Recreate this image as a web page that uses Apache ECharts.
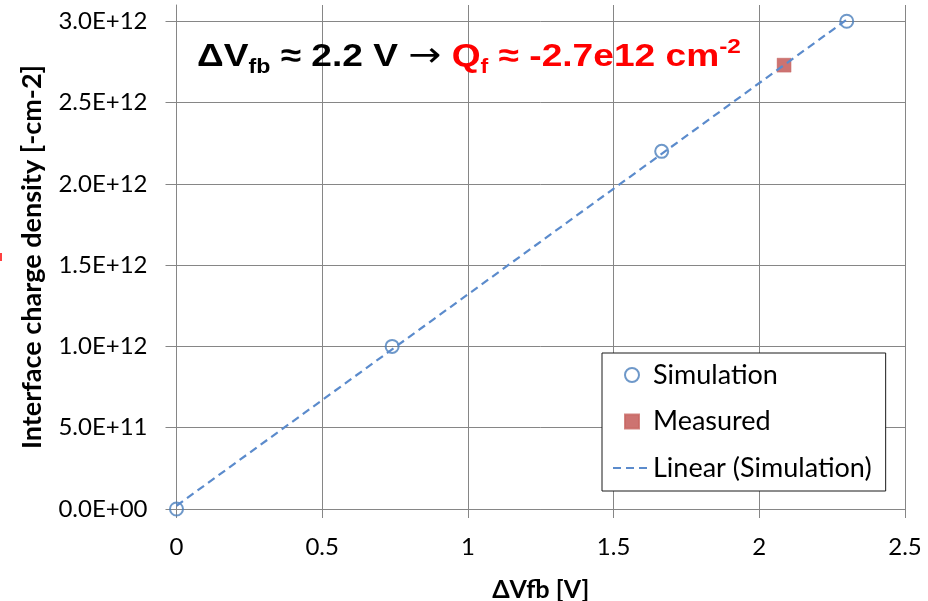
<!DOCTYPE html>
<html>
<head>
<meta charset="utf-8">
<script src="https://cdn.jsdelivr.net/npm/echarts@6/dist/echarts.min.js"></script>
<style>
  html, body { margin: 0; padding: 0; background: #fff; }
  #chart { width: 928px; height: 601px; }
</style>
</head>
<body>
<div id="chart"></div>
<script>
// Simulated interface charge vs. flat-band shift
const simX = [0, 0.74, 1.665, 2.30];
const simY = [0, 1.0e12, 2.2e12, 3.0e12];

// Measured point
const measX = [2.085];
const measY = [2.73e12];

// Linear trendline of the simulation (end points)
const trendX = [0, 2.30];
const trendY = [0.02e12, 3.01e12];

// Axis ticks
const xTicks = [0, 0.5, 1, 1.5, 2, 2.5];
const yTicks = [0, 0.5e12, 1.0e12, 1.5e12, 2.0e12, 2.5e12, 3.0e12];
const yTop = 3.1e12;

const seriesNames = ['Simulation', 'Measured', 'Linear (Simulation)'];

const pairs = (xs, ys) => xs.map((x, i) => [x, ys[i]]);

function sciLabel(v) {
  const parts = Number(v).toExponential(1).split('e');
  const sign = parts[1][0] === '-' ? '-' : '+';
  const exp = parts[1].replace(/^[+-]/, '').padStart(2, '0');
  return parts[0] + 'E' + sign + exp;
}

const gridColor = '#868686';
const labelFont = 'Lato, "Open Sans", sans-serif';
const headFont = '"Liberation Sans", Arial, sans-serif';
const blue = '#4A7EBB';
const lineBlue = '#5B8BCC';
const red = '#C0504D';

const chart = echarts.init(document.getElementById('chart'), null, { renderer: 'canvas' });

chart.setOption({
  animation: false,
  backgroundColor: '#fff',
  grid: { left: 176.5, right: 23, top: 5, bottom: 92, containLabel: false, outerBoundsMode: 'none' },
  xAxis: {
    type: 'value',
    min: xTicks[0],
    max: xTicks[xTicks.length - 1],
    interval: 0.5,
    name: 'ΔVfb [V]',
    nameLocation: 'middle',
    nameGap: 68,
    nameTextStyle: { fontFamily: labelFont, fontWeight: 'bold', fontSize: 25, color: '#000' },
    axisLine: { show: true, lineStyle: { color: gridColor, width: 1 } },
    axisTick: { show: true, inside: false, length: 9, lineStyle: { color: gridColor } },
    axisLabel: { fontFamily: labelFont, fontSize: 24, color: '#000', margin: 26 },
    splitLine: { show: true, lineStyle: { color: gridColor, width: 1 } }
  },
  yAxis: {
    type: 'value',
    min: yTicks[0],
    max: yTop,
    interval: 0.5e12,
    name: 'Interface charge density [-cm-2]',
    nameLocation: 'middle',
    nameGap: 131,
    nameTextStyle: { fontFamily: labelFont, fontWeight: 'bold', fontSize: 27, color: '#000' },
    axisLine: { show: true, lineStyle: { color: gridColor, width: 1 } },
    axisTick: { show: true, inside: false, length: 11, customValues: yTicks, lineStyle: { color: gridColor } },
    axisLabel: {
      fontFamily: labelFont, fontSize: 24, color: '#000', margin: 29,
      showMaxLabel: false,
      formatter: (v) => (v > yTicks[yTicks.length - 1] ? '' : sciLabel(v))
    },
    splitLine: { show: true, lineStyle: { color: gridColor, width: 1 } }
  },
  legend: {
    orient: 'vertical',
    left: 602,
    top: 353,
    data: [
      { name: seriesNames[0] },
      { name: seriesNames[1], icon: 'path://M0,0H10V10H0Z' },
      { name: seriesNames[2], itemStyle: { opacity: 0 } }
    ],
    symbolKeepAspect: true,
    itemWidth: 38,
    itemHeight: 14,
    itemGap: 19.5,
    padding: [8.5, 14, 9.5, 10],
    borderColor: '#1a1a1a',
    borderWidth: 1,
    backgroundColor: '#fff',
    textStyle: { fontFamily: labelFont, fontSize: 27, color: '#000', lineHeight: 27, padding: [0, 0, 0, -3] }
  },
  series: [
    {
      name: seriesNames[0],
      type: 'scatter',
      data: pairs(simX, simY),
      symbol: 'circle',
      symbolSize: 13,
      itemStyle: { color: 'rgba(0,0,0,0)', borderColor: blue, borderWidth: 2 },
      z: 3
    },
    {
      name: seriesNames[1],
      type: 'scatter',
      data: pairs(measX, measY),
      symbol: 'rect',
      symbolSize: 14,
      itemStyle: { color: red, borderColor: '#C86663', borderWidth: 0.5 },
      z: 3
    },
    {
      name: seriesNames[2],
      type: 'line',
      data: pairs(trendX, trendY),
      symbol: 'none',
      showSymbol: false,
      lineStyle: { color: lineBlue, width: 2.2, type: [8, 5] },
      itemStyle: { color: lineBlue },
      z: 4
    }
  ],
  graphic: [
    {
      type: 'text',
      x: 197,
      y: 37,
      scaleX: 1.16,
      z: 10,
      style: {
        x: 0,
        y: 0,
        align: 'left',
        verticalAlign: 'top',
        text: '{a|ΔV}{s|fb}{a| ≈ 2.2 V }{w|→}{a| }{r|Q}{rs|f}{r| ≈ -2.7e12 cm}{rp|-2}',
        rich: {
          a:  { fontFamily: headFont, fontWeight: 'bold', fontSize: 32, lineHeight: 40, fill: '#000' },
          w:  { fontFamily: '"DejaVu Sans", sans-serif', fontWeight: 'normal', fontSize: 34, lineHeight: 40, fill: '#000' },
          s:  { fontFamily: headFont, fontWeight: 'bold', fontSize: 20, lineHeight: 14, verticalAlign: 'bottom', fill: '#000' },
          r:  { fontFamily: headFont, fontWeight: 'bold', fontSize: 32, lineHeight: 40, fill: '#FF0000' },
          rs: { fontFamily: headFont, fontWeight: 'bold', fontSize: 20, lineHeight: 14, verticalAlign: 'bottom', fill: '#FF0000' },
          rp: { fontFamily: headFont, fontWeight: 'bold', fontSize: 21, lineHeight: 26, verticalAlign: 'top', fill: '#FF0000' }
        }
      }
    },
    {
      type: 'line',
      shape: { x1: 1, y1: 253, x2: 1, y2: 261 },
      style: { stroke: '#FF0000', lineWidth: 1.5 }
    }
  ]
});
</script>
</body>
</html>
